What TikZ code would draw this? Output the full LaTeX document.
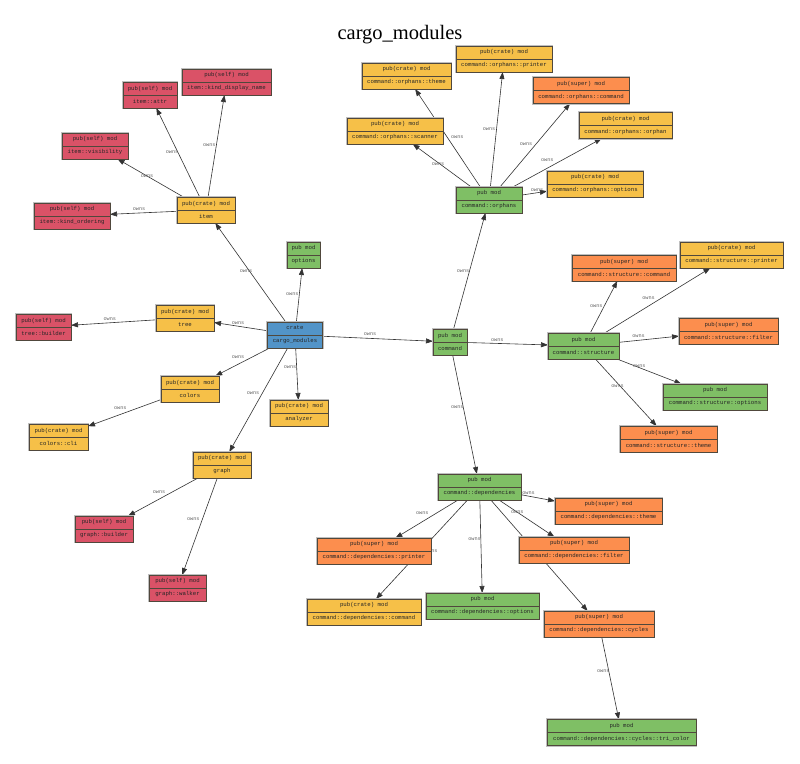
\documentclass[tikz,border=0pt]{standalone}
\usepackage{fontspec}
\setmainfont{Liberation Serif}
\setmonofont{Liberation Mono}
\usetikzlibrary{arrows.meta,calc}
\definecolor{cblue}{RGB}{82,148,200}
\definecolor{cgreen}{RGB}{127,191,101}
\definecolor{cyellow}{RGB}{246,192,72}
\definecolor{corange}{RGB}{252,142,78}
\definecolor{cred}{RGB}{218,82,103}
\definecolor{boxline}{RGB}{80,72,60}
\pgfdeclarelayer{bg}
\pgfsetlayers{bg,main}
\tikzset{
  modbox/.style={rectangle, draw=boxline, line width=0.8pt, minimum height=26pt,
    inner sep=0pt, outer sep=0pt, align=center,
    font=\ttfamily\fontsize{5.7}{13}\selectfont, text=black!85,
    preaction={draw=black!25, line width=2.2pt},
    path picture={\draw[boxline, line width=0.8pt] (path picture bounding box.west) -- (path picture bounding box.east);}},
  edgeline/.style={draw=black!80, line width=0.6pt, -{Triangle[length=7pt,width=5pt]}},
  lbl/.style={font=\ttfamily\fontsize{5.2}{6}\selectfont, text=black!60, inner sep=0pt}
}
\newcommand\modnode[6]{\node[modbox, fill=#4, minimum width=#5pt] (#1) at (#2,#3) {#6};}
\newcommand\ownsline[2]{\draw[edgeline] (#1) -- (#2);}
\newcommand\ownsedge[4]{\ownsline{#1}{#2} \node[lbl] at ($(#1)!0.5!(#2)+(#3,#4)$) {owns};}
\begin{document}
\begin{tikzpicture}[x=1pt,y=-1pt]
\useasboundingbox (0,0) rectangle (800,763);
\node[font=\fontsize{20.5}{24}\selectfont, anchor=base, inner sep=0pt] (title) at (400,39) {cargo\_modules};

\modnode{crate}{295}{335}{cblue}{55}{crate\\cargo\_modules}
\modnode{options}{303.5}{255}{cgreen}{33}{pub mod\\options}
\modnode{tree}{185}{318}{cyellow}{58}{pub(crate) mod\\tree}
\modnode{treeb}{43.5}{327}{cred}{55}{pub(self) mod\\tree::builder}
\modnode{colors}{190}{389}{cyellow}{58}{pub(crate) mod\\colors}
\modnode{cli}{58.5}{437}{cyellow}{59}{pub(crate) mod\\colors::cli}
\modnode{analyzer}{299}{413}{cyellow}{58}{pub(crate) mod\\analyzer}
\modnode{graph}{222}{465}{cyellow}{58}{pub(crate) mod\\graph}
\modnode{gbuilder}{104}{529}{cred}{58}{pub(self) mod\\graph::builder}
\modnode{walker}{177.5}{588}{cred}{57}{pub(self) mod\\graph::walker}
\modnode{item}{206}{210}{cyellow}{58}{pub(crate) mod\\item}
\modnode{kord}{72}{216}{cred}{76}{pub(self) mod\\item::kind\_ordering}
\modnode{vis}{95}{146}{cred}{66}{pub(self) mod\\item::visibility}
\modnode{attr}{150}{95}{cred}{54}{pub(self) mod\\item::attr}
\modnode{kdn}{226.5}{82}{cred}{89}{pub(self) mod\\item::kind\_display\_name}
\modnode{command}{450}{342}{cgreen}{34}{pub mod\\command}
\modnode{orphans}{489}{200}{cgreen}{66}{pub mod\\command::orphans}
\modnode{oprinter}{504}{59}{cyellow}{96}{pub(crate) mod\\command::orphans::printer}
\modnode{otheme}{406.5}{76}{cyellow}{89}{pub(crate) mod\\command::orphans::theme}
\modnode{ocommand}{581}{90.5}{corange}{96}{pub(super) mod\\command::orphans::command}
\modnode{oorphan}{625.5}{125.5}{cyellow}{93}{pub(crate) mod\\command::orphans::orphan}
\modnode{oscanner}{395}{131}{cyellow}{96}{pub(crate) mod\\command::orphans::scanner}
\modnode{ooptions}{595}{184}{cyellow}{96}{pub(crate) mod\\command::orphans::options}
\modnode{structure}{583.5}{346}{cgreen}{71}{pub mod\\command::structure}
\modnode{scommand}{624}{268}{corange}{104}{pub(super) mod\\command::structure::command}
\modnode{sprinter}{731.5}{255}{cyellow}{103}{pub(crate) mod\\command::structure::printer}
\modnode{sfilter}{728.5}{331}{corange}{99}{pub(super) mod\\command::structure::filter}
\modnode{soptions}{715}{397}{cgreen}{104}{pub mod\\command::structure::options}
\modnode{stheme}{668.5}{439}{corange}{97}{pub(super) mod\\command::structure::theme}
\modnode{deps}{479.5}{487}{cgreen}{83}{pub mod\\command::dependencies}
\modnode{dtheme}{608.5}{511}{corange}{107}{pub(super) mod\\command::dependencies::theme}
\modnode{dprinter}{374}{551}{corange}{114}{pub(super) mod\\command::dependencies::printer}
\modnode{dfilter}{574}{550}{corange}{110}{pub(super) mod\\command::dependencies::filter}
\modnode{dcommand}{364}{612}{cyellow}{114}{pub(crate) mod\\command::dependencies::command}
\modnode{doptions}{482.5}{606}{cgreen}{113}{pub mod\\command::dependencies::options}
\modnode{dcycles}{599}{624}{corange}{110}{pub(super) mod\\command::dependencies::cycles}
\modnode{tri}{621.5}{732.5}{cgreen}{149}{pub mod\\command::dependencies::cycles::tri\_color}

\begin{pgfonlayer}{bg}
\fill[white] (0,0) rectangle (800,763);
\ownsedge{crate}{item}{-4.5}{-1.5}
\ownsedge{crate}{options}{-7}{-1}
\ownsedge{crate}{tree}{-2}{-3.5}
\ownsedge{tree}{treeb}{-4.5}{-3.5}
\ownsedge{crate}{colors}{-4.5}{-5}
\ownsedge{crate}{analyzer}{-7}{-7}
\ownsedge{crate}{graph}{-5.5}{-7}
\ownsedge{colors}{cli}{-4}{-5}
\ownsedge{graph}{gbuilder}{-4}{-5}
\ownsedge{graph}{walker}{-6.5}{-7.5}
\ownsedge{item}{kord}{0}{-4}
\ownsedge{item}{vis}{-3.5}{-2}
\ownsedge{item}{attr}{-6}{0}
\ownsedge{item}{kdn}{-7}{-1}
\ownsedge{crate}{command}{-2.5}{-4.5}
\ownsedge{command}{orphans}{-6.5}{0}
\ownsedge{command}{structure}{-19.5}{-4}
\ownsedge{command}{deps}{-7.5}{-7.5}
\ownsedge{orphans}{otheme}{9.5}{-1}
\ownsedge{orphans}{oprinter}{-7.5}{-0.5}
\ownsedge{orphans}{oscanner}{-4}{-1.5}
\ownsedge{orphans}{ocommand}{-9}{-1}
\ownsedge{orphans}{oorphan}{-10}{-2.5}
\ownsedge{orphans}{ooptions}{-5}{-2}
\ownsedge{structure}{scommand}{-7.5}{-1}
\ownsedge{structure}{sprinter}{-9}{-2.5}
\ownsedge{structure}{sfilter}{-17.5}{-2.5}
\ownsedge{structure}{soptions}{-10}{-5.5}
\ownsedge{structure}{stheme}{-8.5}{-6.5}
\ownsedge{deps}{dtheme}{-15.5}{-6}
\ownsedge{deps}{dprinter}{-4.5}{-6}
\ownsedge{deps}{dcommand}{9.5}{1.5}
\ownsedge{deps}{doptions}{-6.5}{-7.5}
\ownsedge{deps}{dfilter}{-9.5}{-6.5}
\ownsline{deps}{dcycles}
\ownsedge{dcycles}{tri}{-7}{-7}
\end{pgfonlayer}
\end{tikzpicture}
\end{document}
